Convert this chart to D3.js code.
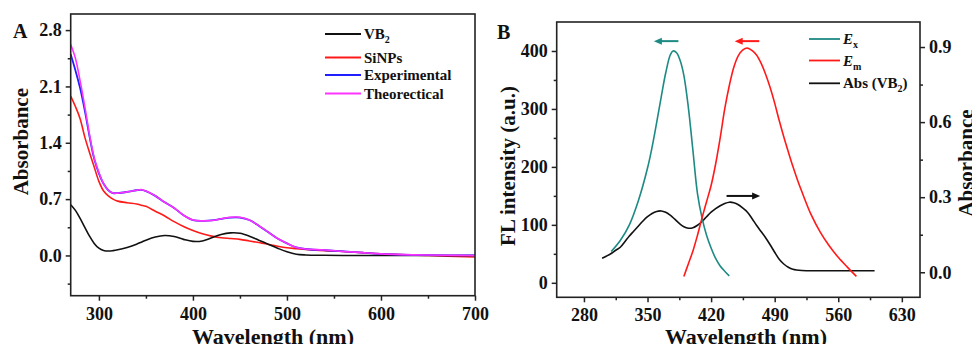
<!DOCTYPE html>
<html>
<head>
<meta charset="utf-8">
<script src="https://cdn.jsdelivr.net/npm/d3@7"></script>
<style>
body{margin:0;background:#fff}
svg{display:block}
text{font-family:"Liberation Serif","Times New Roman",serif;font-weight:bold;fill:#111}
</style>
</head>
<body>
<svg width="972" height="344"></svg>
<script>
// panel A : absorbance spectra
const waveA = [270,275,280,285,290,295,300,305,310,315,320,330,340,345,350,360,370,380,390,400,410,420,430,440,450,460,470,480,490,500,510,520,540,560,580,600,650,700];
const vb2A = [0.63,0.56,0.46,0.35,0.24,0.15,0.09,0.062,0.055,0.06,0.07,0.10,0.14,0.165,0.19,0.23,0.248,0.235,0.20,0.175,0.18,0.22,0.26,0.28,0.275,0.24,0.19,0.14,0.09,0.045,0.015,0.006,0.002,0,0,0,0,0];
const sinpA = [1.98,1.85,1.70,1.47,1.28,1.10,0.92,0.80,0.74,0.70,0.675,0.655,0.64,0.625,0.61,0.55,0.49,0.42,0.36,0.31,0.27,0.24,0.22,0.21,0.20,0.18,0.16,0.14,0.115,0.095,0.085,0.075,0.06,0.05,0.035,0.02,0.0,-0.02];
const expA = [2.50,2.30,2.08,1.80,1.48,1.20,1.02,0.89,0.81,0.775,0.775,0.79,0.81,0.815,0.80,0.74,0.66,0.59,0.50,0.44,0.43,0.435,0.455,0.47,0.47,0.44,0.37,0.29,0.21,0.15,0.10,0.08,0.065,0.05,0.035,0.02,0.005,0.0];
const theoA = [2.62,2.45,2.17,1.85,1.50,1.21,1.03,0.89,0.81,0.775,0.775,0.79,0.81,0.818,0.80,0.74,0.66,0.59,0.50,0.44,0.43,0.435,0.455,0.475,0.475,0.44,0.37,0.29,0.21,0.15,0.10,0.08,0.068,0.05,0.035,0.02,0.005,0.0];

// panel B : excitation, emission, absorbance
const waveEx = [310,320,330,340,350,355,360,365,370,375,378,382,386,390,395,400,405,410,415,420,425,430,435,440];
const fluEx = [54,73,100,142,198,234,276,320,362,393,400,397,383,358,302,228,154,112,82,60,42,29,20,12];
const waveEm = [390,395,400,405,410,415,420,425,430,435,440,445,450,455,460,465,470,475,480,485,490,495,500,505,510,515,520,530,540,550,560,570,580];
const fluEm = [11,33,55,82,112,140,168,205,250,300,340,372,392,402,405,401,393,379,360,337,310,280,252,226,201,178,157,118,88,64,44,27,11];
const waveAbs = [300,305,310,315,320,325,330,335,340,345,350,355,360,365,370,375,380,385,390,395,400,405,410,415,420,425,430,435,440,445,450,455,460,465,470,475,480,485,490,495,500,505,510,520,540,560,580,600];
const absB = [0.056,0.065,0.075,0.088,0.10,0.122,0.145,0.165,0.185,0.205,0.222,0.235,0.243,0.245,0.24,0.228,0.212,0.195,0.182,0.176,0.178,0.188,0.203,0.222,0.24,0.254,0.266,0.275,0.28,0.278,0.27,0.256,0.24,0.215,0.188,0.163,0.138,0.11,0.08,0.052,0.033,0.02,0.012,0.007,0.006,0.006,0.006,0.006];

const ticksA_x = [300,400,500,600,700];
const ticksA_y = [0.0,0.7,1.4,2.1,2.8];
const ticksB_x = [280,350,420,490,560,630];
const ticksB_y = [0,100,200,300,400];
const ticksB_r = [0.0,0.3,0.6,0.9];

const svg = d3.select('svg');

const tickFont = '18px';

function frame(g, m){
    g.append('rect')
    .attr('x',m.left).attr('y',m.top)
    .attr('width',m.right-m.left).attr('height',m.bottom-m.top)
    .attr('fill','none').attr('stroke','#222').attr('stroke-width',1.6);
}

function styleAxis(sel){
    sel.selectAll('.domain').remove();
    sel.selectAll('line').attr('stroke','#222').attr('stroke-width',1.5);
    sel.selectAll('text').style('font-size',tickFont).attr('fill','#111');
}

function addLine(g, xs, ys, xScale, yScale, color, w){
    const pts = xs.map((x,i) => [x, ys[i]]);
    const line = d3.line()
    .x(d => xScale(d[0]))
    .y(d => yScale(d[1]))
    .curve(d3.curveCatmullRom.alpha(0.5));
    g.append('path')
    .datum(pts)
    .attr('d',line)
    .attr('fill','none')
    .attr('stroke',color)
    .attr('stroke-width',w || 1.6);
}

// ---------- panel A ----------
const mA = {left:70.7,right:475,top:14,bottom:295.7};
const xA = d3.scaleLinear().domain([270,700]).range([mA.left,mA.right]);
const yA = d3.scaleLinear().domain([-0.5,3.0]).range([mA.bottom,mA.top]);
const gA = svg.append('g');

const clipA = svg.append('clipPath').attr('id','clipA');
clipA.append('rect').attr('x',mA.left).attr('y',mA.top).attr('width',mA.right-mA.left).attr('height',mA.bottom-mA.top);

const curvesA = gA.append('g').attr('clip-path','url(#clipA)');
addLine(curvesA, waveA, sinpA, xA, yA, '#ff1a1a');
addLine(curvesA, waveA, vb2A, xA, yA, '#111');
addLine(curvesA, waveA, expA, xA, yA, '#1f1fff', 1.8);
addLine(curvesA, waveA, theoA, xA, yA, '#ff33ff', 1.6);

frame(gA, mA);

gA.append('g')
.attr('transform',`translate(0,${mA.bottom})`)
.call(d3.axisBottom(xA).tickValues(ticksA_x).tickSize(5).tickPadding(7))
.call(styleAxis);
gA.append('g')
.attr('transform',`translate(0,${mA.bottom})`)
.call(d3.axisBottom(xA).tickValues([350,450,550,650]).tickSize(3).tickFormat(''))
.call(styleAxis);
gA.append('g')
.attr('transform',`translate(${mA.left},0)`)
.call(d3.axisLeft(yA).tickValues(ticksA_y).tickFormat(d3.format('.1f')).tickSize(5).tickPadding(4))
.call(styleAxis);
gA.append('g')
.attr('transform',`translate(${mA.left},0)`)
.call(d3.axisLeft(yA).tickValues([-0.35,0.35,1.05,1.75,2.45]).tickSize(3).tickFormat(''))
.call(styleAxis);

gA.append('text').attr('x',13).attr('y',38).style('font-size','20px').text('A');

gA.append('text')
.attr('transform',`translate(28,141.7) rotate(-90)`)
.attr('text-anchor','middle')
.style('font-size','21px')
.text('Absorbance');

gA.append('text')
.attr('x',273).attr('y',344)
.attr('text-anchor','middle')
.style('font-size','22px')
.text('Wavelength (nm)');

// legend A
const legA = [
    {name:'VB', sub:'2', color:'#111', y:34},
    {name:'SiNPs', sub:'', color:'#ff1a1a', y:57.5},
    {name:'Experimental', sub:'', color:'#1f1fff', y:75},
    {name:'Theorectical', sub:'', color:'#ff33ff', y:93.5}
];
legA.forEach(d => {
    gA.append('line')
    .attr('x1',325).attr('x2',361).attr('y1',d.y).attr('y2',d.y)
    .attr('stroke',d.color).attr('stroke-width',1.8);
    const t = gA.append('text').attr('x',364).attr('y',d.y+5).style('font-size','15px');
    t.append('tspan').text(d.name);
    if (d.sub) t.append('tspan').attr('dy',4).style('font-size','10px').text(d.sub);
});

// ---------- panel B ----------
const mB = {left:556.7,right:920,top:22,bottom:297.3};
const xB = d3.scaleLinear().domain([250,650]).range([mB.left,mB.right]);
const yB = d3.scaleLinear().domain([-25,450]).range([mB.bottom,mB.top]);
const yR = d3.scaleLinear().domain([-0.1,1.0]).range([mB.bottom,mB.top]);
const gB = svg.append('g');

addLine(gB, waveAbs, absB, xB, yR, '#111');
addLine(gB, waveEx, fluEx, xB, yB, '#1d8a84');
addLine(gB, waveEm, fluEm, xB, yB, '#ff1a1a');

frame(gB, mB);

gB.append('g')
.attr('transform',`translate(0,${mB.bottom})`)
.call(d3.axisBottom(xB).tickValues(ticksB_x).tickSize(5).tickPadding(6))
.call(styleAxis);
gB.append('g')
.attr('transform',`translate(0,${mB.bottom})`)
.call(d3.axisBottom(xB).tickValues([315,385,455,525,595]).tickSize(3).tickFormat(''))
.call(styleAxis);
gB.append('g')
.attr('transform',`translate(${mB.left},0)`)
.call(d3.axisLeft(yB).tickValues(ticksB_y).tickSize(5).tickPadding(4))
.call(styleAxis);
gB.append('g')
.attr('transform',`translate(${mB.left},0)`)
.call(d3.axisLeft(yB).tickValues([50,150,250,350]).tickSize(3).tickFormat(''))
.call(styleAxis);
gB.append('g')
.attr('transform',`translate(${mB.right},0)`)
.call(d3.axisRight(yR).tickValues(ticksB_r).tickFormat(d3.format('.1f')).tickSize(5).tickPadding(4))
.call(styleAxis);
gB.append('g')
.attr('transform',`translate(${mB.right},0)`)
.call(d3.axisRight(yR).tickValues([0.15,0.45,0.75]).tickSize(3).tickFormat(''))
.call(styleAxis);

gB.append('text').attr('x',497).attr('y',39).style('font-size','20px').text('B');

gB.append('text')
.attr('transform',`translate(515,166) rotate(-90)`)
.attr('text-anchor','middle')
.style('font-size','21px')
.text('FL intensity (a.u.)');

gB.append('text')
.attr('transform',`translate(973,163) rotate(-90)`)
.attr('text-anchor','middle')
.style('font-size','21px')
.text('Absorbance');

gB.append('text')
.attr('x',746).attr('y',344)
.attr('text-anchor','middle')
.style('font-size','22px')
.text('Wavelength (nm)');

// arrows pointing to the axis each curve belongs to
const arrows = [
    {from:[384,417], to:[357,417], axis:'left', color:'#1d8a84'},
    {from:[473,417], to:[446,417], axis:'left', color:'#ff1a1a'},
    {from:[437,0.305], to:[474,0.305], axis:'right', color:'#111'}
];
arrows.forEach(a => {
    const ys = a.axis === 'left' ? yB : yR;
    const x1 = xB(a.from[0]), x2 = xB(a.to[0]), y = ys(a.from[1]);
    const dir = Math.sign(x2 - x1);
    gB.append('line')
    .attr('x1',x1).attr('x2',x2 - dir*6).attr('y1',y).attr('y2',y)
    .attr('stroke',a.color).attr('stroke-width',2);
    gB.append('path')
    .attr('d',`M${x2},${y} L${x2-dir*8},${y-3.5} L${x2-dir*8},${y+3.5} Z`)
    .attr('fill',a.color);
});

// legend B
const legB = [
    {main:'E', sub:'x', italic:true, rest:'', color:'#1d8a84', y:39},
    {main:'E', sub:'m', italic:true, rest:'', color:'#ff1a1a', y:60.5},
    {main:'Abs (VB', sub:'2', italic:false, rest:')', color:'#111', y:83.3}
];
legB.forEach(d => {
    gB.append('line')
    .attr('x1',809).attr('x2',840).attr('y1',d.y).attr('y2',d.y)
    .attr('stroke',d.color).attr('stroke-width',1.8);
    const t = gB.append('text').attr('x',843).attr('y',d.y+5).style('font-size','15px');
    t.append('tspan').style('font-style',d.italic ? 'italic' : 'normal').text(d.main);
    t.append('tspan').attr('dy',4).style('font-size','10px').text(d.sub);
    if (d.rest) t.append('tspan').attr('dy',-4).text(d.rest);
});
</script>
</body>
</html>
